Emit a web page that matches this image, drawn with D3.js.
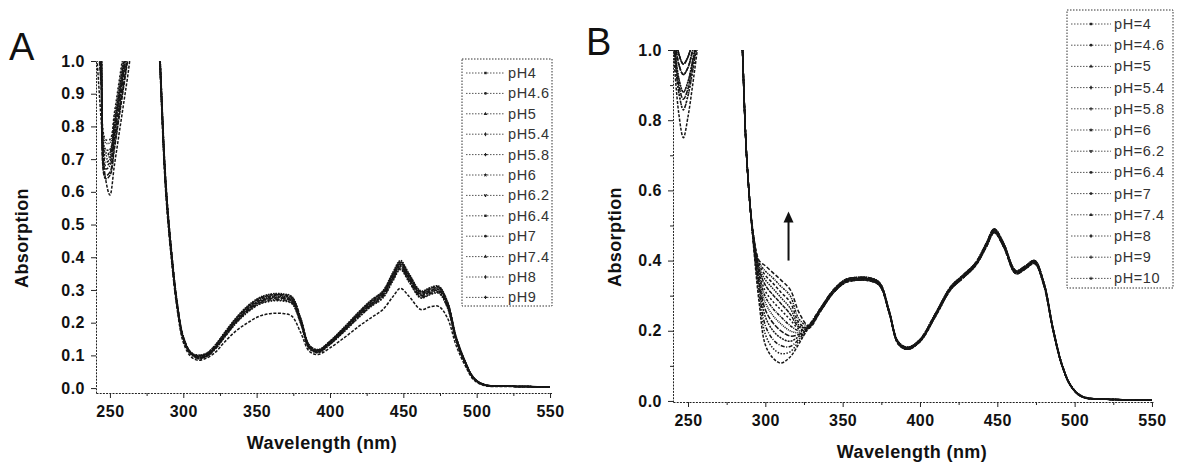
<!DOCTYPE html>
<html>
<head>
<meta charset="utf-8">
<script src="https://cdn.jsdelivr.net/npm/d3@7"></script>
<style>
  body { margin: 0; background: #fff; }
  svg { display: block; font-family: 'Liberation Sans', Arial, sans-serif; }
  .ax .domain { stroke: #222; stroke-dasharray: 2,1.2; }
  .ax line { stroke: #222; }
  .ax text { font-size: 16px; font-weight: bold; fill: #111; letter-spacing: 0.5px; }
  .title { font-size: 18px; font-weight: bold; fill: #111; letter-spacing: 0.4px; }
  .panel { font-size: 38px; fill: #111; }
  .legend text { font-size: 14.5px; fill: #333; letter-spacing: 0.6px; }
  .legend rect { fill: none; stroke: #333; stroke-dasharray: 1.5,1.5; }
</style>
</head>
<body>
<svg id="chart" width="1189" height="470"></svg>
<script>
// wavelength grid shared by both panels (nm)
var wavelengths = [241, 244, 247, 250, 253, 256, 259, 262, 266,
  280, 284, 288, 292, 296, 300, 305, 310, 316, 322,
  328, 336, 344, 352, 360, 368, 374, 380, 386, 392,
  400, 410, 420, 428, 436, 443, 448, 454, 462, 468,
  474, 480, 486, 492, 498, 505, 520, 550]

var xTicks = [250, 300, 350, 400, 450, 500, 550]
var xMinor = [275, 325, 375, 425, 475, 525]

// ---- panel A ----
var labelsA = ['pH4', 'pH4.6', 'pH5', 'pH5.4', 'pH5.8', 'pH6', 'pH6.2', 'pH6.4', 'pH7', 'pH7.4', 'pH8', 'pH9']
var yTicksA = [0, 0.1, 0.2, 0.3, 0.4, 0.5, 0.6, 0.7, 0.8, 0.9, 1.0]

var a_pH4 = [1.02, 0.82, 0.64, 0.59, 0.68, 0.77, 0.86, 0.95, 1.08, 1.4, 0.99, 0.60, 0.39, 0.235, 0.14, 0.097,
  0.085, 0.092, 0.11, 0.14, 0.175, 0.20, 0.22, 0.228, 0.228, 0.22, 0.17, 0.112, 0.103, 0.123, 0.155, 0.19, 0.215,
  0.24, 0.28, 0.305, 0.28, 0.24, 0.248, 0.25, 0.215, 0.13, 0.07, 0.025, 0.008, 0.005, 0.003]
var a_pH46 = [1.20, 1.00, 0.70, 0.71, 0.79, 0.88, 0.97, 1.06, 1.20, 1.4, 1.01, 0.62, 0.41, 0.25, 0.152, 0.106,
  0.09, 0.096, 0.12, 0.154, 0.198, 0.232, 0.256, 0.266, 0.266, 0.258, 0.198, 0.12, 0.108, 0.133, 0.174, 0.217, 0.249,
  0.275, 0.328, 0.362, 0.323, 0.275, 0.285, 0.29, 0.246, 0.145, 0.077, 0.029, 0.01, 0.006, 0.004]
var a_pH5 = [1.16, 0.96, 0.67, 0.68, 0.76, 0.85, 0.94, 1.03, 1.17, 1.4, 1.0, 0.61, 0.40, 0.245, 0.15, 0.105,
  0.092, 0.098, 0.122, 0.157, 0.201, 0.236, 0.26, 0.27, 0.27, 0.262, 0.2, 0.122, 0.11, 0.135, 0.177, 0.22, 0.253,
  0.28, 0.333, 0.367, 0.328, 0.279, 0.289, 0.294, 0.25, 0.147, 0.078, 0.03, 0.01, 0.006, 0.004]
var a_pH54 = [1.22, 1.04, 0.73, 0.73, 0.81, 0.90, 0.99, 1.08, 1.22, 1.4, 1.02, 0.63, 0.41, 0.25, 0.155, 0.108,
  0.094, 0.10, 0.125, 0.16, 0.205, 0.24, 0.265, 0.276, 0.276, 0.268, 0.205, 0.125, 0.112, 0.138, 0.18, 0.225, 0.258,
  0.285, 0.34, 0.375, 0.335, 0.285, 0.295, 0.30, 0.255, 0.15, 0.08, 0.03, 0.01, 0.006, 0.004]
var a_pH58 = [1.14, 0.94, 0.65, 0.66, 0.74, 0.83, 0.92, 1.01, 1.15, 1.4, 1.0, 0.62, 0.405, 0.248, 0.153, 0.107,
  0.093, 0.099, 0.124, 0.159, 0.204, 0.239, 0.263, 0.274, 0.274, 0.266, 0.204, 0.124, 0.111, 0.137, 0.179, 0.224, 0.256,
  0.283, 0.338, 0.372, 0.333, 0.283, 0.293, 0.298, 0.253, 0.149, 0.079, 0.03, 0.01, 0.006, 0.004]
var a_pH6 = [1.24, 1.06, 0.75, 0.75, 0.83, 0.92, 1.01, 1.10, 1.24, 1.4, 1.03, 0.64, 0.415, 0.255, 0.157, 0.11,
  0.096, 0.102, 0.127, 0.163, 0.208, 0.244, 0.269, 0.28, 0.28, 0.272, 0.208, 0.127, 0.114, 0.14, 0.182, 0.228, 0.262,
  0.289, 0.345, 0.38, 0.34, 0.289, 0.299, 0.304, 0.259, 0.152, 0.081, 0.03, 0.01, 0.006, 0.004]
var a_pH62 = [1.18, 0.98, 0.69, 0.70, 0.78, 0.87, 0.96, 1.05, 1.19, 1.4, 1.01, 0.625, 0.41, 0.252, 0.155, 0.108,
  0.097, 0.103, 0.128, 0.164, 0.21, 0.246, 0.271, 0.282, 0.282, 0.274, 0.21, 0.128, 0.115, 0.141, 0.184, 0.23, 0.264,
  0.291, 0.347, 0.382, 0.342, 0.291, 0.301, 0.306, 0.261, 0.154, 0.082, 0.031, 0.011, 0.006, 0.004]
var a_pH64 = [1.26, 1.08, 0.76, 0.76, 0.84, 0.93, 1.02, 1.11, 1.25, 1.4, 1.03, 0.64, 0.42, 0.258, 0.158, 0.111,
  0.10, 0.106, 0.132, 0.168, 0.213, 0.25, 0.275, 0.286, 0.286, 0.278, 0.213, 0.13, 0.117, 0.143, 0.186, 0.233, 0.267,
  0.295, 0.352, 0.387, 0.346, 0.295, 0.305, 0.31, 0.264, 0.156, 0.083, 0.031, 0.011, 0.006, 0.004]
var a_pH7 = [1.12, 0.92, 0.64, 0.65, 0.73, 0.82, 0.91, 1.00, 1.14, 1.4, 1.0, 0.615, 0.40, 0.245, 0.15, 0.105,
  0.099, 0.105, 0.131, 0.167, 0.212, 0.249, 0.274, 0.285, 0.285, 0.277, 0.212, 0.129, 0.116, 0.142, 0.185, 0.232, 0.266,
  0.294, 0.35, 0.385, 0.345, 0.294, 0.304, 0.309, 0.263, 0.155, 0.083, 0.031, 0.011, 0.006, 0.004]
var a_pH74 = [1.20, 1.02, 0.72, 0.72, 0.80, 0.89, 0.98, 1.07, 1.21, 1.4, 1.02, 0.63, 0.412, 0.252, 0.156, 0.109,
  0.101, 0.107, 0.133, 0.169, 0.215, 0.252, 0.277, 0.288, 0.288, 0.28, 0.215, 0.131, 0.118, 0.144, 0.188, 0.235, 0.269,
  0.297, 0.355, 0.39, 0.349, 0.297, 0.307, 0.312, 0.266, 0.157, 0.084, 0.032, 0.011, 0.006, 0.004]
var a_pH8 = [1.16, 0.97, 0.68, 0.69, 0.77, 0.86, 0.95, 1.04, 1.18, 1.4, 1.01, 0.62, 0.405, 0.248, 0.152, 0.107,
  0.095, 0.101, 0.126, 0.162, 0.207, 0.242, 0.267, 0.278, 0.278, 0.27, 0.207, 0.126, 0.113, 0.139, 0.181, 0.227, 0.26,
  0.287, 0.343, 0.378, 0.338, 0.287, 0.297, 0.302, 0.257, 0.151, 0.08, 0.03, 0.01, 0.006, 0.004]
var a_pH9 = [1.22, 1.03, 0.71, 0.72, 0.80, 0.89, 0.98, 1.07, 1.21, 1.4, 1.02, 0.625, 0.41, 0.25, 0.154, 0.108,
  0.091, 0.097, 0.121, 0.155, 0.2, 0.234, 0.258, 0.268, 0.268, 0.26, 0.199, 0.121, 0.109, 0.134, 0.175, 0.219, 0.251,
  0.277, 0.331, 0.365, 0.326, 0.277, 0.287, 0.292, 0.248, 0.146, 0.078, 0.029, 0.01, 0.006, 0.004]

var seriesA = [a_pH4, a_pH46, a_pH5, a_pH54, a_pH58, a_pH6, a_pH62, a_pH64, a_pH7, a_pH74, a_pH8, a_pH9]

// ---- panel B ----
var labelsB = ['pH=4', 'pH=4.6', 'pH=5', 'pH=5.4', 'pH=5.8', 'pH=6', 'pH=6.2', 'pH=6.4', 'pH=7', 'pH=7.4', 'pH=8', 'pH=9', 'pH=10']
var yTicksB = [0, 0.2, 0.4, 0.6, 0.8, 1.0]
var yMinorB = [0.1, 0.3, 0.5, 0.7, 0.9]

var b_pH4 = [0.97, 0.82, 0.75, 0.81, 0.90, 1.0, 1.1, 1.2, 1.3, 1.4, 1.13, 0.69,
  0.46, 0.28, 0.16, 0.122, 0.108, 0.125, 0.165,
  0.21, 0.262, 0.312, 0.342, 0.348, 0.346, 0.332, 0.255, 0.165, 0.15, 0.172, 0.245, 0.322, 0.355,
  0.39, 0.445, 0.485, 0.445, 0.367, 0.38, 0.396, 0.335, 0.205, 0.10, 0.04, 0.012, 0.005, 0.003]
var b_pH46 = [1.0, 0.88, 0.83, 0.87, 0.94, 1.02, 1.1, 1.2, 1.3, 1.4, 1.13, 0.69,
  0.465, 0.30, 0.19, 0.15, 0.135, 0.14, 0.172,
  0.207, 0.258, 0.308, 0.338, 0.344, 0.342, 0.328, 0.252, 0.162, 0.147, 0.169, 0.241, 0.318, 0.351,
  0.386, 0.44, 0.48, 0.44, 0.363, 0.376, 0.392, 0.331, 0.202, 0.098, 0.039, 0.011, 0.005, 0.003]
var b_pH5 = [1.05, 0.96, 0.93, 0.95, 1.0, 1.06, 1.14, 1.22, 1.3, 1.4, 1.13, 0.69,
  0.465, 0.315, 0.215, 0.175, 0.158, 0.155, 0.178,
  0.214, 0.266, 0.316, 0.346, 0.352, 0.35, 0.336, 0.258, 0.168, 0.153, 0.175, 0.249, 0.326, 0.359,
  0.394, 0.45, 0.49, 0.45, 0.371, 0.384, 0.4, 0.339, 0.208, 0.102, 0.041, 0.013, 0.005, 0.003]
var b_pH54 = [1.02, 0.92, 0.88, 0.91, 0.97, 1.04, 1.12, 1.2, 1.3, 1.4, 1.13, 0.69,
  0.47, 0.33, 0.24, 0.20, 0.18, 0.17, 0.185,
  0.21, 0.262, 0.312, 0.342, 0.348, 0.346, 0.332, 0.255, 0.165, 0.15, 0.172, 0.245, 0.322, 0.355,
  0.39, 0.445, 0.485, 0.445, 0.367, 0.38, 0.396, 0.335, 0.205, 0.10, 0.04, 0.012, 0.005, 0.003]
var b_pH58 = [1.08, 0.99, 0.96, 0.98, 1.03, 1.1, 1.16, 1.24, 1.3, 1.4, 1.13, 0.69,
  0.47, 0.34, 0.26, 0.222, 0.20, 0.185, 0.19,
  0.207, 0.258, 0.308, 0.338, 0.344, 0.342, 0.328, 0.252, 0.162, 0.147, 0.169, 0.241, 0.318, 0.351,
  0.386, 0.44, 0.48, 0.44, 0.363, 0.376, 0.392, 0.331, 0.202, 0.098, 0.039, 0.011, 0.005, 0.003]
var b_pH6 = [1.03, 0.9, 0.86, 0.89, 0.96, 1.03, 1.11, 1.2, 1.3, 1.4, 1.13, 0.69,
  0.47, 0.35, 0.28, 0.243, 0.22, 0.20, 0.195,
  0.214, 0.266, 0.316, 0.346, 0.352, 0.35, 0.336, 0.258, 0.168, 0.153, 0.175, 0.249, 0.326, 0.359,
  0.394, 0.45, 0.49, 0.45, 0.371, 0.384, 0.4, 0.339, 0.208, 0.102, 0.041, 0.013, 0.005, 0.003]
var b_pH62 = [1.05, 0.96, 0.93, 0.95, 1.0, 1.06, 1.14, 1.22, 1.3, 1.4, 1.13, 0.69,
  0.475, 0.36, 0.297, 0.263, 0.24, 0.215, 0.20,
  0.21, 0.262, 0.312, 0.342, 0.348, 0.346, 0.332, 0.255, 0.165, 0.15, 0.172, 0.245, 0.322, 0.355,
  0.39, 0.445, 0.485, 0.445, 0.367, 0.38, 0.396, 0.335, 0.205, 0.10, 0.04, 0.012, 0.005, 0.003]
var b_pH64 = [1.0, 0.88, 0.83, 0.87, 0.94, 1.02, 1.1, 1.2, 1.3, 1.4, 1.13, 0.69,
  0.475, 0.37, 0.313, 0.283, 0.26, 0.232, 0.205,
  0.207, 0.258, 0.308, 0.338, 0.344, 0.342, 0.328, 0.252, 0.162, 0.147, 0.169, 0.241, 0.318, 0.351,
  0.386, 0.44, 0.48, 0.44, 0.363, 0.376, 0.392, 0.331, 0.202, 0.098, 0.039, 0.011, 0.005, 0.003]
var b_pH7 = [1.08, 0.99, 0.96, 0.98, 1.03, 1.1, 1.16, 1.24, 1.3, 1.4, 1.13, 0.69,
  0.475, 0.375, 0.33, 0.302, 0.278, 0.248, 0.21,
  0.214, 0.266, 0.316, 0.346, 0.352, 0.35, 0.336, 0.258, 0.168, 0.153, 0.175, 0.249, 0.326, 0.359,
  0.394, 0.45, 0.49, 0.45, 0.371, 0.384, 0.4, 0.339, 0.208, 0.102, 0.041, 0.013, 0.005, 0.003]
var b_pH74 = [1.02, 0.92, 0.88, 0.91, 0.97, 1.04, 1.12, 1.2, 1.3, 1.4, 1.13, 0.69,
  0.48, 0.38, 0.345, 0.32, 0.295, 0.265, 0.215,
  0.21, 0.262, 0.312, 0.342, 0.348, 0.346, 0.332, 0.255, 0.165, 0.15, 0.172, 0.245, 0.322, 0.355,
  0.39, 0.445, 0.485, 0.445, 0.367, 0.38, 0.396, 0.335, 0.205, 0.10, 0.04, 0.012, 0.005, 0.003]
var b_pH8 = [1.05, 0.96, 0.93, 0.95, 1.0, 1.06, 1.14, 1.22, 1.3, 1.4, 1.13, 0.69,
  0.48, 0.39, 0.358, 0.335, 0.31, 0.282, 0.222,
  0.207, 0.258, 0.308, 0.338, 0.344, 0.342, 0.328, 0.252, 0.162, 0.147, 0.169, 0.241, 0.318, 0.351,
  0.386, 0.44, 0.48, 0.44, 0.363, 0.376, 0.392, 0.331, 0.202, 0.098, 0.039, 0.011, 0.005, 0.003]
var b_pH9 = [1.08, 0.99, 0.96, 0.98, 1.03, 1.1, 1.16, 1.24, 1.3, 1.4, 1.13, 0.69,
  0.48, 0.395, 0.37, 0.35, 0.327, 0.30, 0.232,
  0.214, 0.266, 0.316, 0.346, 0.352, 0.35, 0.336, 0.258, 0.168, 0.153, 0.175, 0.249, 0.326, 0.359,
  0.394, 0.45, 0.49, 0.45, 0.371, 0.384, 0.4, 0.339, 0.208, 0.102, 0.041, 0.013, 0.005, 0.003]
var b_pH10 = [1.03, 0.9, 0.86, 0.89, 0.96, 1.03, 1.11, 1.2, 1.3, 1.4, 1.13, 0.69,
  0.485, 0.40, 0.385, 0.365, 0.345, 0.318, 0.25,
  0.215, 0.262, 0.312, 0.342, 0.348, 0.346, 0.332, 0.255, 0.165, 0.15, 0.172, 0.245, 0.322, 0.355,
  0.39, 0.445, 0.485, 0.445, 0.367, 0.38, 0.396, 0.335, 0.205, 0.10, 0.04, 0.012, 0.005, 0.003]

var seriesB = [b_pH4, b_pH46, b_pH5, b_pH54, b_pH58, b_pH6, b_pH62, b_pH64, b_pH7, b_pH74, b_pH8, b_pH9, b_pH10]

// arrow in panel B: wavelength, from, to (absorption)
var arrowWl = 315
var arrowFrom = 0.40
var arrowTo = 0.54

// line styles, one per series
var dashes = ['3,1.5', '1.5,1.5', '4,1.5,1,1.5', '2,1', '5,1.5', '1,1', '3,1,1,1', '2,2', '4,1', '1.5,1', '3,2', '2,1,1,1', '4,2']
var symbols = [d3.symbolSquare, d3.symbolCircle, d3.symbolTriangle, d3.symbolDiamond, d3.symbolCross, d3.symbolStar, d3.symbolWye]

var svg = d3.select('#chart')

function drawPanel (cfg) {
  var g = svg.append('g')

  var x = d3.scaleLinear().domain(cfg.xDomain).range(cfg.xRange)
  var y = d3.scaleLinear().domain(cfg.yDomain).range(cfg.yRange)

  /*
      --------------------------------------
      Curves, clipped at the top of the axis
  */
  g.append('clipPath')
      .attr('id', cfg.id + '-clip')
    .append('rect')
      .attr('x', cfg.xRange[0])
      .attr('y', y(1))
      .attr('width', cfg.xRange[1] - cfg.xRange[0] + 2)
      .attr('height', cfg.yRange[0] - y(1) + 2)

  var line = d3.line()
      .x((d, i) => x(wavelengths[i]))
      .y(d => y(d))
      .curve(d3.curveCatmullRom.alpha(0.5))

  g.append('g')
      .attr('clip-path', `url(#${cfg.id}-clip)`)
    .selectAll('path')
    .data(cfg.series)
    .join('path')
      .attr('d', line)
      .attr('fill', 'none')
      .attr('stroke', '#161616')
      .attr('stroke-width', 1.5)
      .attr('stroke-dasharray', (d, i) => dashes[i % dashes.length])

  /*
      --------------------------------------
      Axes
  */
  var xAxis = d3.axisBottom(x).tickValues(xTicks).tickSize(5).tickPadding(8).tickSizeOuter(0)
  g.append('g').classed('ax', true)
      .attr('transform', `translate(0,${cfg.yRange[0]})`)
      .call(xAxis)

  g.append('g').classed('ax', true)
      .attr('transform', `translate(0,${cfg.yRange[0]})`)
      .call(d3.axisBottom(x).tickValues(xMinor).tickSize(3).tickFormat(''))
      .select('.domain').remove()

  var yAxis = d3.axisLeft(y).tickValues(cfg.yTicks).tickFormat(d3.format('.1f')).tickSize(5).tickPadding(6).tickSizeOuter(0)
  g.append('g').classed('ax', true)
      .attr('transform', `translate(${cfg.xRange[0]},0)`)
      .call(yAxis)

  if (cfg.yMinor) {
    g.append('g').classed('ax', true)
        .attr('transform', `translate(${cfg.xRange[0]},0)`)
        .call(d3.axisLeft(y).tickValues(cfg.yMinor).tickSize(3).tickFormat(''))
        .select('.domain').remove()
  }

  g.append('text').classed('title', true)
      .attr('x', cfg.xTitle[0])
      .attr('y', cfg.xTitle[1])
      .attr('text-anchor', 'middle')
      .text('Wavelength (nm)')

  g.append('text').classed('title', true)
      .attr('transform', `translate(${cfg.yTitle[0]},${cfg.yTitle[1]}) rotate(-90)`)
      .attr('text-anchor', 'middle')
      .text('Absorption')

  g.append('text').classed('panel', true)
      .attr('x', cfg.letter[0])
      .attr('y', cfg.letter[1])
      .text(cfg.name)

  /*
      --------------------------------------
      Legend
  */
  var lg = cfg.legend
  var legend = g.append('g').classed('legend', true)
  legend.append('rect')
      .attr('x', lg.x)
      .attr('y', lg.y)
      .attr('width', lg.w)
      .attr('height', lg.h)

  var items = legend.selectAll('.item')
      .data(cfg.labels)
      .join('g')
      .classed('item', true)
      .attr('transform', (d, i) => `translate(${lg.x + 4},${lg.y0 + i * lg.step})`)

  items.append('line')
      .attr('x1', 0)
      .attr('x2', lg.sample)
      .attr('stroke', '#555')
      .attr('stroke-width', 1)
      .attr('stroke-dasharray', '1.5,1.5')

  items.append('path')
      .attr('transform', `translate(${lg.sample / 2},0)`)
      .attr('d', (d, i) => d3.symbol().type(symbols[i % symbols.length]).size(6)())
      .attr('fill', '#222')

  items.append('text')
      .attr('x', lg.sample + 3)
      .attr('dy', '0.35em')
      .text(d => d)

  return {x: x, y: y, g: g}
}

drawPanel({
  id: 'pa',
  name: 'A',
  letter: [9, 60],
  xDomain: [240.5, 551],
  xRange: [96, 551.5],
  yDomain: [-0.015, 1.0],
  yRange: [393, 61],
  yTicks: yTicksA,
  series: seriesA,
  labels: labelsA,
  xTitle: [322, 449],
  yTitle: [28, 238],
  legend: {x: 462, y: 59, w: 90, h: 247, y0: 73, step: 20.4, sample: 39}
})

var pb = drawPanel({
  id: 'pb',
  name: 'B',
  letter: [586, 55],
  xDomain: [240.3, 551],
  xRange: [673, 1153.5],
  yDomain: [-0.003, 1.0],
  yRange: [402, 50],
  yTicks: yTicksB,
  yMinor: yMinorB,
  series: seriesB,
  labels: labelsB,
  xTitle: [912, 458],
  yTitle: [621, 237],
  legend: {x: 1067, y: 10, w: 106, h: 278, y0: 24, step: 21.2, sample: 40}
})

// arrow showing the rise with pH
var ax = pb.x(arrowWl)
pb.g.append('line')
    .attr('x1', ax).attr('x2', ax)
    .attr('y1', pb.y(arrowFrom))
    .attr('y2', pb.y(arrowTo) + 8)
    .attr('stroke', '#111')
    .attr('stroke-width', 2)
pb.g.append('path')
    .attr('d', `M${ax},${pb.y(arrowTo)}l-5,11h10z`)
    .attr('fill', '#111')
</script>
</body>
</html>
